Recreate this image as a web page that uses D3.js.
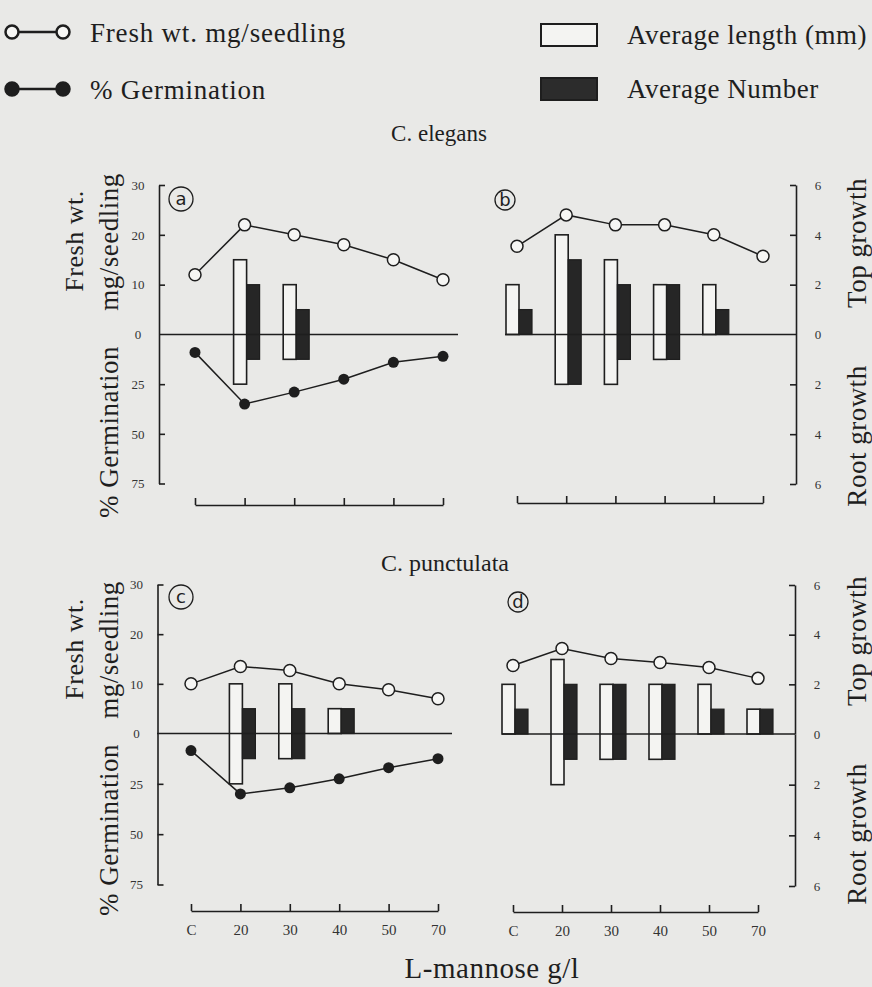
<!DOCTYPE html>
<html>
<head>
<meta charset="utf-8">
<script src="https://cdn.jsdelivr.net/npm/d3@7"></script>
<style>
  body { margin: 0; background: #e9e9e7; }
  svg { display: block; font-family: "Liberation Serif", "DejaVu Serif", serif; }
  .axis path, .axis line { stroke: #1e1e1e; stroke-width: 1.6; }
  .axis text { fill: #333; font-size: 13px; font-family: "Liberation Serif", serif; }
</style>
</head>
<body>
<script>
// concentrations of L-mannose (g/l), C = control
const categories = ["C", "20", "30", "40", "50", "70"];

// C. elegans
const freshA = [12, 22, 20, 18, 15, 11];
const germA = [9, 35, 29, 22.5, 14, 11];
const lengthTopA = [0, 3, 2, 0, 0, 0];
const lengthRootA = [0, 2, 1, 0, 0, 0];
const numberTopA = [0, 2, 1, 0, 0, 0];
const numberRootA = [0, 1, 1, 0, 0, 0];

const freshB = [17.7, 24, 22, 22, 20, 15.7];
const lengthTopB = [2, 4, 3, 2, 2, 0];
const lengthRootB = [0, 2, 2, 1, 0, 0];
const numberTopB = [1, 3, 2, 2, 1, 0];
const numberRootB = [0, 2, 1, 1, 0, 0];

// C. punctulata
const freshC = [10, 13.5, 12.7, 10, 8.8, 7];
const germC = [8.5, 30, 27, 22.5, 17, 12.5];
const lengthTopC = [0, 2, 2, 1, 0, 0];
const lengthRootC = [0, 2, 1, 0, 0, 0];
const numberTopC = [0, 1, 1, 1, 0, 0];
const numberRootC = [0, 1, 1, 0, 0, 0];

const freshD = [13.8, 17.2, 15.2, 14.4, 13.4, 11.2];
const lengthTopD = [2, 3, 2, 2, 2, 1];
const lengthRootD = [0, 2, 1, 1, 0, 0];
const numberTopD = [1, 2, 2, 2, 1, 1];
const numberRootD = [0, 1, 1, 1, 0, 0];

const ink = "#1e1e1e";
const width = 872, height = 987;

const svg = d3.select("body").append("svg")
  .attr("width", width)
  .attr("height", height);

function drawPanel(p) {
  const g = svg.append("g");
  const x = d3.scalePoint().domain(categories).range(p.xRange);
  const fresh = d3.scaleLinear().domain([0, 30]).range([p.zero, p.top]);
  const germ = d3.scaleLinear().domain([0, 75]).range([p.zero, p.bottom]);
  const topG = d3.scaleLinear().domain([0, 6]).range([p.zero, p.top]);
  const rootG = d3.scaleLinear().domain([0, 6]).range([p.zero, p.bottom]);

  // bars: white = average length, black = average number
  const rows = categories.map((c, i) => ({
    c: c,
    lt: p.lengthTop[i], lr: p.lengthRoot[i],
    nt: p.numberTop[i], nr: p.numberRoot[i]
  }));
  g.selectAll(".len").data(rows.filter(d => d.lt + d.lr > 0)).enter()
    .append("rect")
    .attr("x", d => x(d.c) - 11)
    .attr("width", 13)
    .attr("y", d => topG(d.lt))
    .attr("height", d => rootG(d.lr) - topG(d.lt))
    .attr("fill", "#f4f4f2")
    .attr("stroke", ink)
    .attr("stroke-width", 1.6);
  g.selectAll(".num").data(rows.filter(d => d.nt + d.nr > 0)).enter()
    .append("rect")
    .attr("x", d => x(d.c) + 2)
    .attr("width", 13)
    .attr("y", d => topG(d.nt))
    .attr("height", d => rootG(d.nr) - topG(d.nt))
    .attr("fill", "#262626")
    .attr("stroke", ink)
    .attr("stroke-width", 1.2);

  // zero line
  g.append("line")
    .attr("x1", p.zeroLine[0]).attr("x2", p.zeroLine[1])
    .attr("y1", p.zero).attr("y2", p.zero)
    .attr("stroke", ink).attr("stroke-width", 1.6);

  if (p.leftAxis) {
    const a1 = g.append("g").attr("class", "axis")
      .attr("transform", "translate(" + p.leftAxis + ",0)")
      .call(d3.axisLeft(fresh).tickValues([0, 10, 20, 30]).tickSize(-6).tickSizeOuter(0));
    const a2 = g.append("g").attr("class", "axis")
      .attr("transform", "translate(" + p.leftAxis + ",0)")
      .call(d3.axisLeft(germ).tickValues([25, 50, 75]).tickSize(-6).tickSizeOuter(0));
    [a1, a2].forEach(a => a.selectAll("text").attr("x", -21).attr("text-anchor", "middle"));
    a1.selectAll(".tick").filter(d => d === 0).select("line").remove();
  }
  if (p.rightAxis) {
    const a1 = g.append("g").attr("class", "axis")
      .attr("transform", "translate(" + p.rightAxis + ",0)")
      .call(d3.axisRight(topG).tickValues([0, 2, 4, 6]).tickFormat(d3.format("d"))
        .tickSize(-6).tickSizeOuter(0));
    const a2 = g.append("g").attr("class", "axis")
      .attr("transform", "translate(" + p.rightAxis + ",0)")
      .call(d3.axisRight(rootG).tickValues([2, 4, 6]).tickFormat(d3.format("d"))
        .tickSize(-6).tickSizeOuter(0));
    [a1, a2].forEach(a => a.selectAll("text").attr("x", 22).attr("text-anchor", "middle"));
    a1.selectAll(".tick").filter(d => d === 0).select("line").remove();
  }

  // concentration axis
  const xa = g.append("g").attr("class", "axis")
    .attr("transform", "translate(0," + p.xAxisY + ")")
    .call(d3.axisBottom(x).tickSize(-7).tickSizeOuter(0).tickPadding(13)
      .tickFormat(p.xLabels ? d => d : ""));
  xa.selectAll("text").style("font-size", "15px").attr("fill", "#2a2a2a");

  // fresh weight line (open circles)
  g.append("path")
    .datum(p.fresh)
    .attr("d", d3.line().x((d, i) => x(categories[i])).y(d => fresh(d)))
    .attr("fill", "none").attr("stroke", ink).attr("stroke-width", 1.5);
  g.selectAll(".fw").data(p.fresh).enter().append("circle")
    .attr("cx", (d, i) => x(categories[i]))
    .attr("cy", d => fresh(d))
    .attr("r", 6)
    .attr("fill", "#f6f6f4").attr("stroke", ink).attr("stroke-width", 1.5);

  if (p.germ) {
    g.append("path")
      .datum(p.germ)
      .attr("d", d3.line().x((d, i) => x(categories[i])).y(d => germ(d)))
      .attr("fill", "none").attr("stroke", ink).attr("stroke-width", 1.5);
    g.selectAll(".gm").data(p.germ).enter().append("circle")
      .attr("cx", (d, i) => x(categories[i]))
      .attr("cy", d => germ(d))
      .attr("r", 5.5)
      .attr("fill", ink);
  }

  // circled panel letter
  g.append("circle")
    .attr("cx", p.tag[1]).attr("cy", p.tag[2]).attr("r", p.tag[3])
    .attr("fill", "none").attr("stroke", ink).attr("stroke-width", 1.3);
  g.append("text")
    .attr("x", p.tag[1]).attr("y", p.tag[2] + 6)
    .attr("text-anchor", "middle")
    .style("font-family", "'DejaVu Sans', sans-serif")
    .style("font-size", "18px")
    .attr("fill", ink)
    .text(p.tag[0]);
}

drawPanel({
  xRange: [195, 443], zero: 334.5, top: 185, bottom: 483.5,
  leftAxis: 159, zeroLine: [159, 458], xAxisY: 505, xLabels: false,
  fresh: freshA, germ: germA,
  lengthTop: lengthTopA, lengthRoot: lengthRootA, numberTop: numberTopA, numberRoot: numberRootA,
  tag: ["a", 181, 199, 12]
});
drawPanel({
  xRange: [517, 763], zero: 334.5, top: 185, bottom: 484,
  rightAxis: 796, zeroLine: [505, 796], xAxisY: 503, xLabels: false,
  fresh: freshB,
  lengthTop: lengthTopB, lengthRoot: lengthRootB, numberTop: numberTopB, numberRoot: numberRootB,
  tag: ["b", 505, 200, 10]
});
drawPanel({
  xRange: [191, 438], zero: 733.5, top: 584.5, bottom: 884.5,
  leftAxis: 157.5, zeroLine: [157, 452], xAxisY: 911, xLabels: true,
  fresh: freshC, germ: germC,
  lengthTop: lengthTopC, lengthRoot: lengthRootC, numberTop: numberTopC, numberRoot: numberRootC,
  tag: ["c", 181, 597, 12]
});
drawPanel({
  xRange: [513, 758], zero: 734, top: 585, bottom: 886,
  rightAxis: 795, zeroLine: [502, 795], xAxisY: 912, xLabels: true,
  fresh: freshD,
  lengthTop: lengthTopD, lengthRoot: lengthRootD, numberTop: numberTopD, numberRoot: numberRootD,
  tag: ["d", 518, 602, 10]
});

// axis titles (rotated)
function vText(txt, cx, cy, size) {
  svg.append("text")
    .attr("transform", "translate(" + cx + "," + cy + ") rotate(-90)")
    .attr("text-anchor", "middle")
    .style("font-size", size + "px")
    .style("letter-spacing", "0.5px")
    .attr("fill", ink)
    .text(txt);
}
[[0, 0], [408, 398]].forEach(([o1, o2]) => {
  vText("Fresh wt.", 83, 241 + o1, 26);
  vText("mg/seedling", 118, 242 + o1, 27);
  vText("% Germination", 118, 432 + o2, 27);
  vText("Top growth", 866, 243 + o2, 27);
  vText("Root growth", 866, 436 + o2, 27);
});

// titles
svg.append("text").attr("x", 439).attr("y", 141).attr("text-anchor", "middle")
  .style("font-size", "23px").attr("fill", ink).text("C. elegans");
svg.append("text").attr("x", 445).attr("y", 571).attr("text-anchor", "middle")
  .style("font-size", "24px").attr("fill", ink).text("C. punctulata");
svg.append("text").attr("x", 492).attr("y", 978).attr("text-anchor", "middle")
  .style("font-size", "29px").style("letter-spacing", "0.5px").attr("fill", ink).text("L-mannose g/l");

// legend
const legend = svg.append("g");
[[32, "#f6f6f4", "Fresh wt. mg/seedling"], [89, ink, "% Germination"]].forEach(([y, f, t]) => {
  legend.append("line").attr("x1", 12).attr("x2", 63).attr("y1", y).attr("y2", y)
    .attr("stroke", ink).attr("stroke-width", 2.5);
  [12, 63].forEach(cx => legend.append("circle").attr("cx", cx).attr("cy", y).attr("r", 6.5)
    .attr("fill", f).attr("stroke", ink).attr("stroke-width", 2.5));
  legend.append("text").attr("x", 90).attr("y", y + 10).style("font-size", "27px")
    .style("letter-spacing", "0.8px").attr("fill", ink).text(t);
});
[[24, "#f4f4f2", "Average length (mm)"], [78, "#2c2c2c", "Average Number"]].forEach(([y, f, t]) => {
  legend.append("rect").attr("x", 541).attr("y", y).attr("width", 56).attr("height", 22)
    .attr("fill", f).attr("stroke", ink).attr("stroke-width", 2);
  legend.append("text").attr("x", 627).attr("y", y + 20).style("font-size", "27px")
    .style("letter-spacing", "0.5px").attr("fill", ink).text(t);
});
</script>
</body>
</html>
